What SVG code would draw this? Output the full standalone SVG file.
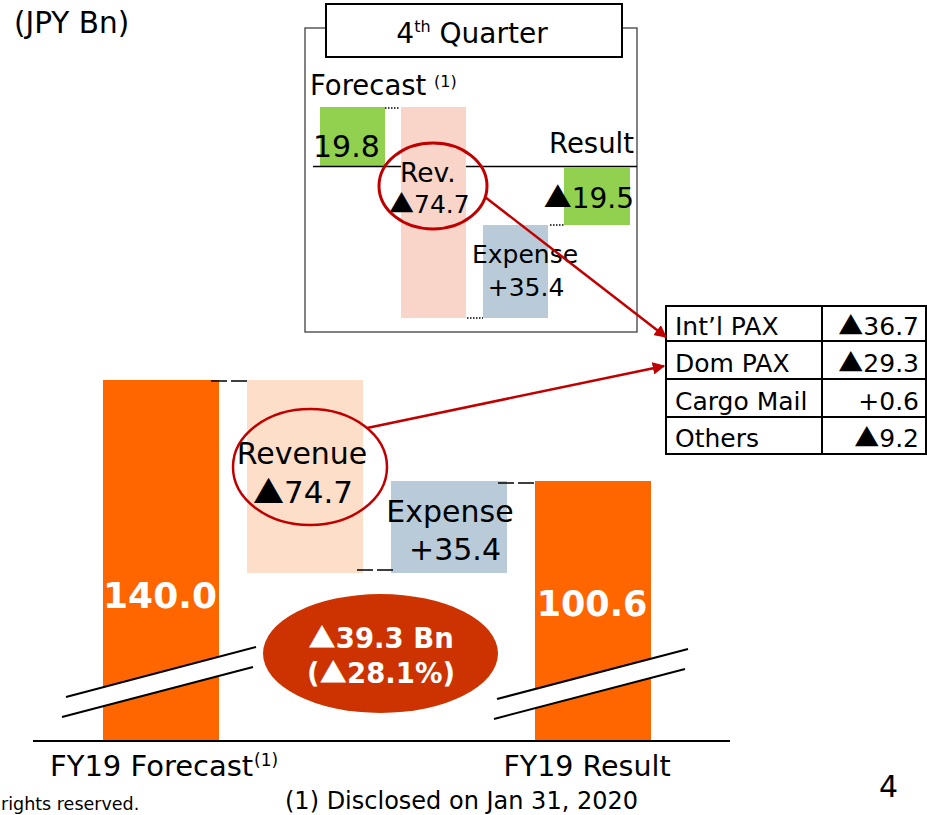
<svg xmlns="http://www.w3.org/2000/svg" width="927" height="815" viewBox="0 0 927 815">
<style>
text{font-family:"DejaVu Sans","Liberation Sans",sans-serif;fill:#000}
.t{font-family:"Noto Sans CJK JP","DejaVu Sans",sans-serif}
.w{fill:#fff;font-weight:bold}
.red{stroke:#C00000;fill:none}
.dash{stroke:#000;stroke-width:1.5;stroke-dasharray:16 4}
.dot{stroke:#000;stroke-width:1.5;stroke-dasharray:1.5 1.5}
.brk{stroke:#000;stroke-width:2}
.tbl{stroke:#000;stroke-width:2;fill:none}
.tc{font-size:25px}
</style>
<defs>
<marker id="ah" viewBox="0 0 10 10" refX="9" refY="5" markerWidth="5" markerHeight="5" orient="auto" markerUnits="strokeWidth">
<path d="M0,0 L10,5 L0,10 z" fill="#C00000"/>
</marker>
</defs>
<rect width="927" height="815" fill="#fff"/>

<text x="14" y="33" font-size="29.5">(JPY Bn)</text>

<!-- inset quarter chart -->
<g id="quarter">
<rect x="305" y="28" width="332" height="304" fill="#fff" stroke="#595959" stroke-width="1.5"/>
<rect x="326" y="4" width="296" height="53" fill="#fff" stroke="#000" stroke-width="2"/>
<text x="472" y="43" font-size="28" text-anchor="middle">4<tspan font-size="16" dy="-11">th</tspan><tspan dy="11"> Quarter</tspan></text>
<text x="310" y="95" font-size="27.5">Forecast</text>
<text x="434" y="87" font-size="16">(1)</text>
<rect x="320" y="107" width="65" height="59" fill="#92D050"/>
<line x1="313" y1="166.5" x2="637" y2="166.5" stroke="#000" stroke-width="1.5"/>
<line x1="385" y1="108" x2="399" y2="108" class="dot"/>
<rect x="401" y="107" width="65" height="211" fill="#F9D4C9"/>
<text x="313" y="157" font-size="30">19.8</text>
<text x="400" y="182" font-size="26.5">Rev.</text>
<text x="389" y="213" font-size="25"><tspan class="t">▲</tspan>74.7</text>
<text x="634" y="153" font-size="27.5" text-anchor="end">Result</text>
<rect x="564" y="167" width="66" height="58" fill="#92D050"/>
<text x="634" y="208" font-size="28" text-anchor="end"><tspan class="t">▲</tspan>19.5</text>
<line x1="550" y1="225" x2="564" y2="225" class="dot"/>
<rect x="483" y="225" width="65" height="93" fill="#B9CAD9"/>
<text x="525" y="263" font-size="25" text-anchor="middle">Expense</text>
<text x="526" y="296" font-size="25" text-anchor="middle">+35.4</text>
<line x1="467" y1="318" x2="483" y2="318" class="dot"/>
<ellipse cx="433" cy="186" rx="54" ry="43" class="red" stroke-width="3"/>
</g>

<!-- table -->
<g id="table">
<rect x="666" y="306" width="260" height="148" class="tbl"/>
<line x1="822" y1="306" x2="822" y2="454" class="tbl"/>
<line x1="666" y1="341" x2="926" y2="341" class="tbl"/>
<line x1="666" y1="379" x2="926" y2="379" class="tbl"/>
<line x1="666" y1="417" x2="926" y2="417" class="tbl"/>
<text x="675" y="335" class="tc">Int’l PAX</text>
<text x="919" y="335" class="tc" text-anchor="end"><tspan class="t">▲</tspan>36.7</text>
<text x="675" y="372" class="tc">Dom PAX</text>
<text x="919" y="372" class="tc" text-anchor="end"><tspan class="t">▲</tspan>29.3</text>
<text x="675" y="410" class="tc">Cargo Mail</text>
<text x="919" y="410" class="tc" text-anchor="end">+0.6</text>
<text x="675" y="447" class="tc">Others</text>
<text x="919" y="447" class="tc" text-anchor="end"><tspan class="t">▲</tspan>9.2</text>
</g>

<!-- main chart -->
<g id="forecast-bar">
<rect x="103" y="380" width="116" height="361" fill="#FF6600"/>
<polygon points="66,697 256,647 253,667 62,717" fill="#fff"/>
<line x1="66" y1="697" x2="256" y2="647" class="brk"/>
<line x1="62" y1="717" x2="253" y2="667" class="brk"/>
<text x="160" y="608" font-size="36" class="w" text-anchor="middle">140.0</text>
</g>
<g id="revenue">
<rect x="247" y="380" width="116" height="193" fill="#FDDEC8"/>
<text x="302" y="464" font-size="30" text-anchor="middle">Revenue</text>
<text x="303" y="503" font-size="31" text-anchor="middle"><tspan class="t">▲</tspan>74.7</text>
<ellipse cx="310" cy="467" rx="77" ry="58" class="red" stroke-width="2.5"/>
</g>
<g id="expense">
<rect x="391" y="481" width="116" height="92" fill="#B9CAD9"/>
<text x="450" y="522" font-size="30" text-anchor="middle">Expense</text>
<text x="455" y="560" font-size="30" text-anchor="middle">+35.4</text>
</g>
<g id="result-bar">
<rect x="535" y="481" width="116" height="260" fill="#FF6600"/>
<polygon points="497,699 688,649 685,669 494,719" fill="#fff"/>
<line x1="497" y1="699" x2="688" y2="649" class="brk"/>
<line x1="494" y1="719" x2="685" y2="669" class="brk"/>
<text x="592" y="616" font-size="35" class="w" text-anchor="middle">100.6</text>
</g>
<g id="diff">
<ellipse cx="380.5" cy="653.5" rx="117.5" ry="59.5" fill="#CC3300"/>
<text x="381" y="648" font-size="27.5" class="w" text-anchor="middle"><tspan class="t">▲</tspan>39.3 Bn</text>
<text x="381" y="683" font-size="27.5" class="w" text-anchor="middle">(<tspan class="t">▲</tspan>28.1%)</text>
</g>

<g id="connectors">
<line x1="211" y1="381" x2="247" y2="381" class="dash"/>
<line x1="357" y1="570" x2="393" y2="570" class="dash"/>
<line x1="498" y1="483" x2="535" y2="483" class="dash"/>
<line x1="485" y1="197" x2="666" y2="337" class="red" stroke-width="2.5" marker-end="url(#ah)"/>
<line x1="367" y1="428" x2="664" y2="366" class="red" stroke-width="2.5" marker-end="url(#ah)"/>
</g>

<line x1="33" y1="741" x2="730" y2="741" stroke="#000" stroke-width="2"/>
<text x="50" y="776" font-size="29">FY19 Forecast</text>
<text x="254" y="766" font-size="17">(1)</text>
<text x="587" y="776" font-size="28.5" text-anchor="middle">FY19 Result</text>
<text x="285" y="809" font-size="24">(1) Disclosed on Jan 31, 2020</text>
<text x="1" y="810" font-size="17.5">rights reserved.</text>
<text x="879" y="797" font-size="30">4</text>
</svg>
